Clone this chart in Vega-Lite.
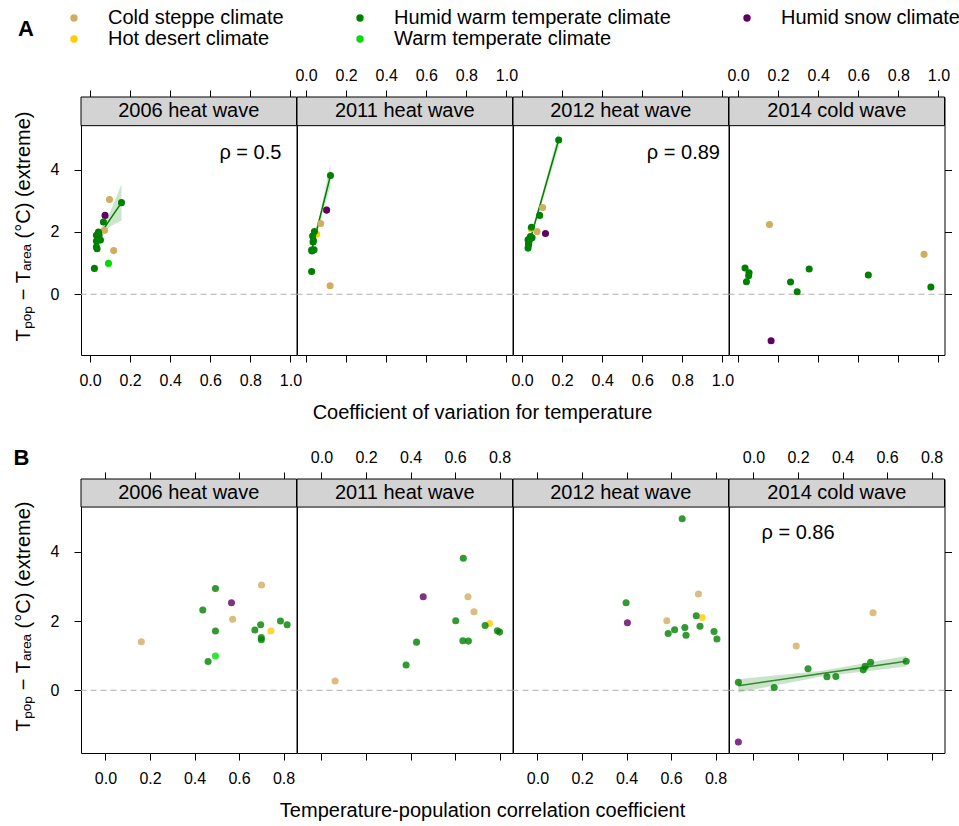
{
"$schema": "https://vega.github.io/schema/vega-lite/v6.json",
"background": "white",
"padding": {"left": 12, "top": 6, "right": 5, "bottom": 2},
"datasets": {
"pts": [
{"ev":"2006 heat wave","cl":"Cold steppe climate","cv":0.097,"cor":0.701,"y":3.04},
{"ev":"2006 heat wave","cl":"Humid warm temperate climate","cv":0.157,"cor":0.494,"y":2.94},
{"ev":"2006 heat wave","cl":"Humid snow climate","cv":0.075,"cor":0.566,"y":2.53},
{"ev":"2006 heat wave","cl":"Humid warm temperate climate","cv":0.067,"cor":0.437,"y":2.32},
{"ev":"2006 heat wave","cl":"Cold steppe climate","cv":0.072,"cor":0.571,"y":2.05},
{"ev":"2006 heat wave","cl":"Hot desert climate","cv":0.040,"cor":0.743,"y":1.71},
{"ev":"2006 heat wave","cl":"Humid warm temperate climate","cv":0.042,"cor":0.786,"y":2.00},
{"ev":"2006 heat wave","cl":"Humid warm temperate climate","cv":0.032,"cor":0.697,"y":1.89},
{"ev":"2006 heat wave","cl":"Humid warm temperate climate","cv":0.045,"cor":0.816,"y":1.89},
{"ev":"2006 heat wave","cl":"Humid warm temperate climate","cv":0.052,"cor":0.671,"y":1.74},
{"ev":"2006 heat wave","cl":"Humid warm temperate climate","cv":0.032,"cor":0.494,"y":1.71},
{"ev":"2006 heat wave","cl":"Humid warm temperate climate","cv":0.032,"cor":0.700,"y":1.52},
{"ev":"2006 heat wave","cl":"Humid warm temperate climate","cv":0.035,"cor":0.700,"y":1.46},
{"ev":"2006 heat wave","cl":"Cold steppe climate","cv":0.118,"cor":0.161,"y":1.40},
{"ev":"2006 heat wave","cl":"Warm temperate climate","cv":0.092,"cor":0.494,"y":0.99},
{"ev":"2006 heat wave","cl":"Humid warm temperate climate","cv":0.022,"cor":0.461,"y":0.83},
{"ev":"2011 heat wave","cl":"Humid warm temperate climate","cv":0.122,"cor":0.637,"y":3.81},
{"ev":"2011 heat wave","cl":"Cold steppe climate","cv":0.101,"cor":0.658,"y":2.70},
{"ev":"2011 heat wave","cl":"Humid snow climate","cv":0.103,"cor":0.457,"y":2.70},
{"ev":"2011 heat wave","cl":"Cold steppe climate","cv":0.073,"cor":0.685,"y":2.27},
{"ev":"2011 heat wave","cl":"Hot desert climate","cv":0.053,"cor":0.755,"y":1.93},
{"ev":"2011 heat wave","cl":"Humid warm temperate climate","cv":0.042,"cor":0.603,"y":2.01},
{"ev":"2011 heat wave","cl":"Humid warm temperate climate","cv":0.033,"cor":0.735,"y":1.87},
{"ev":"2011 heat wave","cl":"Humid warm temperate climate","cv":0.037,"cor":0.790,"y":1.72},
{"ev":"2011 heat wave","cl":"Humid warm temperate climate","cv":0.035,"cor":0.800,"y":1.68},
{"ev":"2011 heat wave","cl":"Humid warm temperate climate","cv":0.040,"cor":0.635,"y":1.43},
{"ev":"2011 heat wave","cl":"Humid warm temperate climate","cv":0.028,"cor":0.660,"y":1.42},
{"ev":"2011 heat wave","cl":"Humid warm temperate climate","cv":0.030,"cor":0.427,"y":1.39},
{"ev":"2011 heat wave","cl":"Humid warm temperate climate","cv":0.028,"cor":0.380,"y":0.73},
{"ev":"2011 heat wave","cl":"Cold steppe climate","cv":0.120,"cor":0.061,"y":0.27},
{"ev":"2012 heat wave","cl":"Humid warm temperate climate","cv":0.183,"cor":0.650,"y":4.95},
{"ev":"2012 heat wave","cl":"Cold steppe climate","cv":0.103,"cor":0.723,"y":2.78},
{"ev":"2012 heat wave","cl":"Humid warm temperate climate","cv":0.088,"cor":0.398,"y":2.53},
{"ev":"2012 heat wave","cl":"Hot desert climate","cv":0.045,"cor":0.740,"y":2.10},
{"ev":"2012 heat wave","cl":"Humid warm temperate climate","cv":0.047,"cor":0.713,"y":2.15},
{"ev":"2012 heat wave","cl":"Cold steppe climate","cv":0.075,"cor":0.581,"y":2.01},
{"ev":"2012 heat wave","cl":"Humid snow climate","cv":0.117,"cor":0.404,"y":1.95},
{"ev":"2012 heat wave","cl":"Humid warm temperate climate","cv":0.042,"cor":0.730,"y":1.85},
{"ev":"2012 heat wave","cl":"Humid warm temperate climate","cv":0.050,"cor":0.662,"y":1.81},
{"ev":"2012 heat wave","cl":"Humid warm temperate climate","cv":0.030,"cor":0.616,"y":1.75},
{"ev":"2012 heat wave","cl":"Humid warm temperate climate","cv":0.035,"cor":0.793,"y":1.70},
{"ev":"2012 heat wave","cl":"Humid warm temperate climate","cv":0.033,"cor":0.587,"y":1.64},
{"ev":"2012 heat wave","cl":"Humid warm temperate climate","cv":0.033,"cor":0.667,"y":1.59},
{"ev":"2012 heat wave","cl":"Humid warm temperate climate","cv":0.030,"cor":0.806,"y":1.48},
{"ev":"2014 cold wave","cl":"Cold steppe climate","cv":0.157,"cor":0.537,"y":2.24},
{"ev":"2014 cold wave","cl":"Cold steppe climate","cv":0.928,"cor":0.192,"y":1.28},
{"ev":"2014 cold wave","cl":"Humid warm temperate climate","cv":0.035,"cor":0.686,"y":0.84},
{"ev":"2014 cold wave","cl":"Humid warm temperate climate","cv":0.355,"cor":0.526,"y":0.81},
{"ev":"2014 cold wave","cl":"Humid warm temperate climate","cv":0.055,"cor":0.502,"y":0.69},
{"ev":"2014 cold wave","cl":"Humid warm temperate climate","cv":0.650,"cor":0.245,"y":0.62},
{"ev":"2014 cold wave","cl":"Humid warm temperate climate","cv":0.053,"cor":0.493,"y":0.59},
{"ev":"2014 cold wave","cl":"Humid warm temperate climate","cv":0.042,"cor":0.370,"y":0.40},
{"ev":"2014 cold wave","cl":"Humid warm temperate climate","cv":0.262,"cor":0.330,"y":0.39},
{"ev":"2014 cold wave","cl":"Humid warm temperate climate","cv":0.962,"cor":-0.068,"y":0.23},
{"ev":"2014 cold wave","cl":"Humid warm temperate climate","cv":0.295,"cor":0.093,"y":0.08},
{"ev":"2014 cold wave","cl":"Humid snow climate","cv":0.165,"cor":-0.068,"y":-1.49}
],
"fits": [
{"p":"A2006","x":0.03,"y":1.73,"lo":1.57,"hi":1.89},
{"p":"A2006","x":0.05,"y":1.92,"lo":1.80,"hi":2.04},
{"p":"A2006","x":0.10,"y":2.40,"lo":2.17,"hi":2.63},
{"p":"A2006","x":0.157,"y":2.94,"lo":2.37,"hi":3.53},
{"p":"A2011","x":0.028,"y":1.41,"lo":1.33,"hi":1.49},
{"p":"A2011","x":0.07,"y":2.48,"lo":2.36,"hi":2.60},
{"p":"A2011","x":0.122,"y":3.81,"lo":3.45,"hi":4.20},
{"p":"A2012","x":0.03,"y":1.52,"lo":1.44,"hi":1.60},
{"p":"A2012","x":0.10,"y":3.09,"lo":2.96,"hi":3.22},
{"p":"A2012","x":0.183,"y":4.96,"lo":4.72,"hi":5.20},
{"p":"B2014","x":-0.068,"y":0.13,"lo":-0.06,"hi":0.32},
{"p":"B2014","x":0.30,"y":0.476,"lo":0.39,"hi":0.56},
{"p":"B2014","x":0.686,"y":0.84,"lo":0.69,"hi":0.99}
],
"rho": [
{"p":"A2006","x":0.80,"y":4.54,"label":"ρ = 0.5"},
{"p":"A2012","x":0.805,"y":4.54,"label":"ρ = 0.89"},
{"p":"B2014","x":0.20,"y":4.54,"label":"ρ = 0.86"}
]
},
"spacing": 23,
"vconcat": [
{
"hconcat": [
{
"width": 215.5, "height": 258,
"layer": [
{"layer": [
{"data":{"values":[{}]},"mark":{"type":"rule","stroke":"#b0b0b0","strokeDash":[6,4],"strokeWidth":1},"encoding":{"y":{"datum":0,"type":"quantitative","scale":{"domain":[-1.95,6.33],"nice":false,"zero":false},"axis":{"orient":"left","values":[0,2,4],"title":"Tₚₒₚ − Tₐᵣₑₐ (°C) (extreme)","titleFontSize":20,"titleFontWeight":"normal","titlePadding":17,"labelPadding":15}}}},
{"data":{"name":"fits"},"transform":[{"filter":"datum.p==='A2006'"}],"mark":{"type":"area","color":"#008000","opacity":0.2},"encoding":{"x":{"field":"x","type":"quantitative","scale":{"domain":[-0.045,1.03],"nice":false,"zero":false},"axis":{"orient":"bottom","values":[0,0.2,0.4,0.6,0.8,1],"format":".1f","title":null,"labelPadding":10}},"y":{"field":"lo","type":"quantitative","scale":{"domain":[-1.95,6.33],"nice":false,"zero":false},"axis":{"orient":"left","values":[0,2,4],"title":"Tₚₒₚ − Tₐᵣₑₐ (°C) (extreme)","titleFontSize":20,"titleFontWeight":"normal","titlePadding":17,"labelPadding":15}},"y2":{"field":"hi"}}},
{"data":{"name":"fits"},"transform":[{"filter":"datum.p==='A2006'"}],"mark":{"type":"line","color":"#008000","strokeWidth":1.5},"encoding":{"x":{"field":"x","type":"quantitative","scale":{"domain":[-0.045,1.03],"nice":false,"zero":false},"axis":{"orient":"bottom","values":[0,0.2,0.4,0.6,0.8,1],"format":".1f","title":null,"labelPadding":10}},"y":{"field":"y","type":"quantitative","scale":{"domain":[-1.95,6.33],"nice":false,"zero":false},"axis":{"orient":"left","values":[0,2,4],"title":"Tₚₒₚ − Tₐᵣₑₐ (°C) (extreme)","titleFontSize":20,"titleFontWeight":"normal","titlePadding":17,"labelPadding":15}}}},
{"data":{"name":"pts"},"transform":[{"filter":"datum.ev==='2006 heat wave'"}],"mark":{"type":"circle","size":50,"opacity":1},"encoding":{
"x":{"field":"cv","type":"quantitative","scale":{"domain":[-0.045,1.03],"nice":false,"zero":false},"axis":{"orient":"bottom","values":[0,0.2,0.4,0.6,0.8,1],"format":".1f","title":null,"labelPadding":10}},
"y":{"field":"y","type":"quantitative","scale":{"domain":[-1.95,6.33],"nice":false,"zero":false},"axis":{"orient":"left","values":[0,2,4],"title":"Tₚₒₚ − Tₐᵣₑₐ (°C) (extreme)","titleFontSize":20,"titleFontWeight":"normal","titlePadding":17,"labelPadding":15}},
"color":{"field":"cl","type":"nominal","scale":{"domain":["Cold steppe climate","Humid warm temperate climate","Humid snow climate","Hot desert climate","Warm temperate climate"],"range":["#D1AD62","#008000","#600060","#FFCC00","#00DD00"]},"legend":{"title":"A","titleOrient":"left","titleAnchor":"middle","titleBaseline":"middle","titleFontSize":22,"titleFontWeight":"bold","titlePadding":30,"orient":"none","direction":"horizontal","legendX":-65,"legendY":-91,"columns":3,"columnPadding":66,"rowPadding":1,"labelFontSize":20,"labelLimit":0,"labelOffset":24,"symbolType":"circle","symbolSize":55,"symbolOpacity":1,"symbolStrokeWidth":0,"padding":2}}}},
{"data":{"name":"rho"},"transform":[{"filter":"datum.p==='A2006'"}],"mark":{"type":"text","fontSize":20,"align":"center","baseline":"middle"},"encoding":{"x":{"field":"x","type":"quantitative","scale":{"domain":[-0.045,1.03],"nice":false,"zero":false},"axis":{"orient":"bottom","values":[0,0.2,0.4,0.6,0.8,1],"format":".1f","title":null,"labelPadding":10}},"y":{"field":"y","type":"quantitative","scale":{"domain":[-1.95,6.33],"nice":false,"zero":false},"axis":{"orient":"left","values":[0,2,4],"title":"Tₚₒₚ − Tₐᵣₑₐ (°C) (extreme)","titleFontSize":20,"titleFontWeight":"normal","titlePadding":17,"labelPadding":15}},"text":{"field":"label"}}}
]},
{"data":{"values":[{"label":"2006 heat wave"}]},"layer":[
{"mark":{"type":"rect","fill":"#d3d3d3","stroke":"black","strokeWidth":1},"encoding":{"x":{"datum":-0.045,"type":"quantitative","scale":{"domain":[-0.045,1.03],"nice":false,"zero":false},"axis":{"orient":"top","values":[0,0.2,0.4,0.6,0.8,1],"labels":false,"title":null}},"x2":{"datum":1.03},"y":{"datum":5.41,"type":"quantitative","scale":{"domain":[-1.95,6.33],"nice":false,"zero":false},"axis":{"orient":"left","values":[0,2,4],"title":"Tₚₒₚ − Tₐᵣₑₐ (°C) (extreme)","titleFontSize":20,"titleFontWeight":"normal","titlePadding":17,"labelPadding":15}},"y2":{"datum":6.33}}},
{"mark":{"type":"text","fontSize":20,"baseline":"middle"},"encoding":{"x":{"datum":0.4925,"type":"quantitative","scale":{"domain":[-0.045,1.03],"nice":false,"zero":false},"axis":{"orient":"top","values":[0,0.2,0.4,0.6,0.8,1],"labels":false,"title":null}},"y":{"datum":5.87,"type":"quantitative","scale":{"domain":[-1.95,6.33],"nice":false,"zero":false},"axis":{"orient":"left","values":[0,2,4],"title":"Tₚₒₚ − Tₐᵣₑₐ (°C) (extreme)","titleFontSize":20,"titleFontWeight":"normal","titlePadding":17,"labelPadding":15}},"text":{"field":"label"}}}
]}
],
"resolve":{"axis":{"x":"independent"}}
},
{
"width": 215.5, "height": 258,
"layer": [
{"layer": [
{"data":{"values":[{}]},"mark":{"type":"rule","stroke":"#b0b0b0","strokeDash":[6,4],"strokeWidth":1},"encoding":{"y":{"datum":0,"type":"quantitative","scale":{"domain":[-1.95,6.33],"nice":false,"zero":false},"axis":null}}},
{"data":{"name":"fits"},"transform":[{"filter":"datum.p==='A2011'"}],"mark":{"type":"area","color":"#008000","opacity":0.2},"encoding":{"x":{"field":"x","type":"quantitative","scale":{"domain":[-0.045,1.03],"nice":false,"zero":false},"axis":{"orient":"bottom","values":[0,0.2,0.4,0.6,0.8,1],"labels":false,"title":null}},"y":{"field":"lo","type":"quantitative","scale":{"domain":[-1.95,6.33],"nice":false,"zero":false},"axis":null},"y2":{"field":"hi"}}},
{"data":{"name":"fits"},"transform":[{"filter":"datum.p==='A2011'"}],"mark":{"type":"line","color":"#008000","strokeWidth":1.5},"encoding":{"x":{"field":"x","type":"quantitative","scale":{"domain":[-0.045,1.03],"nice":false,"zero":false},"axis":{"orient":"bottom","values":[0,0.2,0.4,0.6,0.8,1],"labels":false,"title":null}},"y":{"field":"y","type":"quantitative","scale":{"domain":[-1.95,6.33],"nice":false,"zero":false},"axis":null}}},
{"data":{"name":"pts"},"transform":[{"filter":"datum.ev==='2011 heat wave'"}],"mark":{"type":"circle","size":50,"opacity":1},"encoding":{
"x":{"field":"cv","type":"quantitative","scale":{"domain":[-0.045,1.03],"nice":false,"zero":false},"axis":{"orient":"bottom","values":[0,0.2,0.4,0.6,0.8,1],"labels":false,"title":null}},
"y":{"field":"y","type":"quantitative","scale":{"domain":[-1.95,6.33],"nice":false,"zero":false},"axis":null},
"color":{"field":"cl","type":"nominal","scale":{"domain":["Cold steppe climate","Humid warm temperate climate","Humid snow climate","Hot desert climate","Warm temperate climate"],"range":["#D1AD62","#008000","#600060","#FFCC00","#00DD00"]}}}}
]},
{"data":{"values":[{"label":"2011 heat wave"}]},"layer":[
{"mark":{"type":"rect","fill":"#d3d3d3","stroke":"black","strokeWidth":1},"encoding":{"x":{"datum":-0.045,"type":"quantitative","scale":{"domain":[-0.045,1.03],"nice":false,"zero":false},"axis":{"orient":"top","values":[0,0.2,0.4,0.6,0.8,1],"format":".1f","title":null,"labelPadding":7}},"x2":{"datum":1.03},"y":{"datum":5.41,"type":"quantitative","scale":{"domain":[-1.95,6.33],"nice":false,"zero":false},"axis":null},"y2":{"datum":6.33}}},
{"mark":{"type":"text","fontSize":20,"baseline":"middle"},"encoding":{"x":{"datum":0.4925,"type":"quantitative","scale":{"domain":[-0.045,1.03],"nice":false,"zero":false},"axis":{"orient":"top","values":[0,0.2,0.4,0.6,0.8,1],"format":".1f","title":null,"labelPadding":7}},"y":{"datum":5.87,"type":"quantitative","scale":{"domain":[-1.95,6.33],"nice":false,"zero":false},"axis":null},"text":{"field":"label"}}}
]}
],
"resolve":{"axis":{"x":"independent"}}
},
{
"width": 215.5, "height": 258,
"layer": [
{"layer": [
{"data":{"values":[{}]},"mark":{"type":"rule","stroke":"#b0b0b0","strokeDash":[6,4],"strokeWidth":1},"encoding":{"y":{"datum":0,"type":"quantitative","scale":{"domain":[-1.95,6.33],"nice":false,"zero":false},"axis":null}}},
{"data":{"name":"fits"},"transform":[{"filter":"datum.p==='A2012'"}],"mark":{"type":"area","color":"#008000","opacity":0.2},"encoding":{"x":{"field":"x","type":"quantitative","scale":{"domain":[-0.045,1.03],"nice":false,"zero":false},"axis":{"orient":"bottom","values":[0,0.2,0.4,0.6,0.8,1],"format":".1f","title":null,"labelPadding":10}},"y":{"field":"lo","type":"quantitative","scale":{"domain":[-1.95,6.33],"nice":false,"zero":false},"axis":null},"y2":{"field":"hi"}}},
{"data":{"name":"fits"},"transform":[{"filter":"datum.p==='A2012'"}],"mark":{"type":"line","color":"#008000","strokeWidth":1.5},"encoding":{"x":{"field":"x","type":"quantitative","scale":{"domain":[-0.045,1.03],"nice":false,"zero":false},"axis":{"orient":"bottom","values":[0,0.2,0.4,0.6,0.8,1],"format":".1f","title":null,"labelPadding":10}},"y":{"field":"y","type":"quantitative","scale":{"domain":[-1.95,6.33],"nice":false,"zero":false},"axis":null}}},
{"data":{"name":"pts"},"transform":[{"filter":"datum.ev==='2012 heat wave'"}],"mark":{"type":"circle","size":50,"opacity":1},"encoding":{
"x":{"field":"cv","type":"quantitative","scale":{"domain":[-0.045,1.03],"nice":false,"zero":false},"axis":{"orient":"bottom","values":[0,0.2,0.4,0.6,0.8,1],"format":".1f","title":null,"labelPadding":10}},
"y":{"field":"y","type":"quantitative","scale":{"domain":[-1.95,6.33],"nice":false,"zero":false},"axis":null},
"color":{"field":"cl","type":"nominal","scale":{"domain":["Cold steppe climate","Humid warm temperate climate","Humid snow climate","Hot desert climate","Warm temperate climate"],"range":["#D1AD62","#008000","#600060","#FFCC00","#00DD00"]}}}},
{"data":{"name":"rho"},"transform":[{"filter":"datum.p==='A2012'"}],"mark":{"type":"text","fontSize":20,"align":"center","baseline":"middle"},"encoding":{"x":{"field":"x","type":"quantitative","scale":{"domain":[-0.045,1.03],"nice":false,"zero":false},"axis":{"orient":"bottom","values":[0,0.2,0.4,0.6,0.8,1],"format":".1f","title":null,"labelPadding":10}},"y":{"field":"y","type":"quantitative","scale":{"domain":[-1.95,6.33],"nice":false,"zero":false},"axis":null},"text":{"field":"label"}}}
]},
{"data":{"values":[{"label":"2012 heat wave"}]},"layer":[
{"mark":{"type":"rect","fill":"#d3d3d3","stroke":"black","strokeWidth":1},"encoding":{"x":{"datum":-0.045,"type":"quantitative","scale":{"domain":[-0.045,1.03],"nice":false,"zero":false},"axis":{"orient":"top","values":[0,0.2,0.4,0.6,0.8,1],"labels":false,"title":null}},"x2":{"datum":1.03},"y":{"datum":5.41,"type":"quantitative","scale":{"domain":[-1.95,6.33],"nice":false,"zero":false},"axis":null},"y2":{"datum":6.33}}},
{"mark":{"type":"text","fontSize":20,"baseline":"middle"},"encoding":{"x":{"datum":0.4925,"type":"quantitative","scale":{"domain":[-0.045,1.03],"nice":false,"zero":false},"axis":{"orient":"top","values":[0,0.2,0.4,0.6,0.8,1],"labels":false,"title":null}},"y":{"datum":5.87,"type":"quantitative","scale":{"domain":[-1.95,6.33],"nice":false,"zero":false},"axis":null},"text":{"field":"label"}}}
]}
],
"resolve":{"axis":{"x":"independent"}}
},
{
"width": 215.5, "height": 258,
"layer": [
{"layer": [
{"data":{"values":[{}]},"mark":{"type":"rule","stroke":"#b0b0b0","strokeDash":[6,4],"strokeWidth":1},"encoding":{"y":{"datum":0,"type":"quantitative","scale":{"domain":[-1.95,6.33],"nice":false,"zero":false},"axis":{"orient":"right","values":[0,2,4],"labels":false,"title":null}}}},
{"data":{"name":"pts"},"transform":[{"filter":"datum.ev==='2014 cold wave'"}],"mark":{"type":"circle","size":50,"opacity":1},"encoding":{
"x":{"field":"cv","type":"quantitative","scale":{"domain":[-0.045,1.03],"nice":false,"zero":false},"axis":{"orient":"bottom","values":[0,0.2,0.4,0.6,0.8,1],"labels":false,"title":null}},
"y":{"field":"y","type":"quantitative","scale":{"domain":[-1.95,6.33],"nice":false,"zero":false},"axis":{"orient":"right","values":[0,2,4],"labels":false,"title":null}},
"color":{"field":"cl","type":"nominal","scale":{"domain":["Cold steppe climate","Humid warm temperate climate","Humid snow climate","Hot desert climate","Warm temperate climate"],"range":["#D1AD62","#008000","#600060","#FFCC00","#00DD00"]}}}}
]},
{"data":{"values":[{"label":"2014 cold wave"}]},"layer":[
{"mark":{"type":"rect","fill":"#d3d3d3","stroke":"black","strokeWidth":1},"encoding":{"x":{"datum":-0.045,"type":"quantitative","scale":{"domain":[-0.045,1.03],"nice":false,"zero":false},"axis":{"orient":"top","values":[0,0.2,0.4,0.6,0.8,1],"format":".1f","title":null,"labelPadding":7}},"x2":{"datum":1.03},"y":{"datum":5.41,"type":"quantitative","scale":{"domain":[-1.95,6.33],"nice":false,"zero":false},"axis":{"orient":"right","values":[0,2,4],"labels":false,"title":null}},"y2":{"datum":6.33}}},
{"mark":{"type":"text","fontSize":20,"baseline":"middle"},"encoding":{"x":{"datum":0.4925,"type":"quantitative","scale":{"domain":[-0.045,1.03],"nice":false,"zero":false},"axis":{"orient":"top","values":[0,0.2,0.4,0.6,0.8,1],"format":".1f","title":null,"labelPadding":7}},"y":{"datum":5.87,"type":"quantitative","scale":{"domain":[-1.95,6.33],"nice":false,"zero":false},"axis":{"orient":"right","values":[0,2,4],"labels":false,"title":null}},"text":{"field":"label"}}}
]}
],
"resolve":{"axis":{"x":"independent"}}
}
],
"spacing": 0,
"bounds": "flush",
"title": {"text":"Coefficient of variation for temperature","orient":"bottom","anchor":"middle","fontSize":20,"fontWeight":"normal","offset":14}
},
{
"vconcat": [
{
"hconcat": [
{
"width": 215.5, "height": 274,
"layer": [
{"layer": [
{"data":{"values":[{}]},"mark":{"type":"rule","stroke":"#b0b0b0","strokeDash":[6,4],"strokeWidth":1},"encoding":{"y":{"datum":0,"type":"quantitative","scale":{"domain":[-1.81,6.10],"nice":false,"zero":false},"axis":{"orient":"left","values":[0,2,4],"title":"Tₚₒₚ − Tₐᵣₑₐ (°C) (extreme)","titleFontSize":20,"titleFontWeight":"normal","titlePadding":17,"labelPadding":15}}}},
{"data":{"name":"pts"},"transform":[{"filter":"datum.ev==='2006 heat wave'"}],"mark":{"type":"circle","size":50,"opacity":0.8},"encoding":{
"x":{"field":"cor","type":"quantitative","scale":{"domain":[-0.11,0.858],"nice":false,"zero":false},"axis":{"orient":"bottom","values":[0,0.2,0.4,0.6,0.8],"format":".1f","title":null,"labelPadding":10}},
"y":{"field":"y","type":"quantitative","scale":{"domain":[-1.81,6.10],"nice":false,"zero":false},"axis":{"orient":"left","values":[0,2,4],"title":"Tₚₒₚ − Tₐᵣₑₐ (°C) (extreme)","titleFontSize":20,"titleFontWeight":"normal","titlePadding":17,"labelPadding":15}},
"color":{"field":"cl","type":"nominal","scale":{"domain":["Cold steppe climate","Humid warm temperate climate","Humid snow climate","Hot desert climate","Warm temperate climate"],"range":["#D1AD62","#008000","#600060","#FFCC00","#00DD00"]}}}}
]},
{"data":{"values":[{"label":"2006 heat wave"}]},"layer":[
{"mark":{"type":"rect","fill":"#d3d3d3","stroke":"black","strokeWidth":1},"encoding":{"x":{"datum":-0.11,"type":"quantitative","scale":{"domain":[-0.11,0.858],"nice":false,"zero":false},"axis":{"orient":"top","values":[0,0.2,0.4,0.6,0.8],"labels":false,"title":null}},"x2":{"datum":0.858},"y":{"datum":5.29,"type":"quantitative","scale":{"domain":[-1.81,6.10],"nice":false,"zero":false},"axis":{"orient":"left","values":[0,2,4],"title":"Tₚₒₚ − Tₐᵣₑₐ (°C) (extreme)","titleFontSize":20,"titleFontWeight":"normal","titlePadding":17,"labelPadding":15}},"y2":{"datum":6.10}}},
{"mark":{"type":"text","fontSize":20,"baseline":"middle"},"encoding":{"x":{"datum":0.374,"type":"quantitative","scale":{"domain":[-0.11,0.858],"nice":false,"zero":false},"axis":{"orient":"top","values":[0,0.2,0.4,0.6,0.8],"labels":false,"title":null}},"y":{"datum":5.695,"type":"quantitative","scale":{"domain":[-1.81,6.10],"nice":false,"zero":false},"axis":{"orient":"left","values":[0,2,4],"title":"Tₚₒₚ − Tₐᵣₑₐ (°C) (extreme)","titleFontSize":20,"titleFontWeight":"normal","titlePadding":17,"labelPadding":15}},"text":{"field":"label"}}}
]}
],
"resolve":{"axis":{"x":"independent"}}
},
{
"width": 215.5, "height": 274,
"layer": [
{"layer": [
{"data":{"values":[{}]},"mark":{"type":"rule","stroke":"#b0b0b0","strokeDash":[6,4],"strokeWidth":1},"encoding":{"y":{"datum":0,"type":"quantitative","scale":{"domain":[-1.81,6.10],"nice":false,"zero":false},"axis":null}}},
{"data":{"name":"pts"},"transform":[{"filter":"datum.ev==='2011 heat wave'"}],"mark":{"type":"circle","size":50,"opacity":0.8},"encoding":{
"x":{"field":"cor","type":"quantitative","scale":{"domain":[-0.11,0.858],"nice":false,"zero":false},"axis":{"orient":"bottom","values":[0,0.2,0.4,0.6,0.8],"labels":false,"title":null}},
"y":{"field":"y","type":"quantitative","scale":{"domain":[-1.81,6.10],"nice":false,"zero":false},"axis":null},
"color":{"field":"cl","type":"nominal","scale":{"domain":["Cold steppe climate","Humid warm temperate climate","Humid snow climate","Hot desert climate","Warm temperate climate"],"range":["#D1AD62","#008000","#600060","#FFCC00","#00DD00"]}}}}
]},
{"data":{"values":[{"label":"2011 heat wave"}]},"layer":[
{"mark":{"type":"rect","fill":"#d3d3d3","stroke":"black","strokeWidth":1},"encoding":{"x":{"datum":-0.11,"type":"quantitative","scale":{"domain":[-0.11,0.858],"nice":false,"zero":false},"axis":{"orient":"top","values":[0,0.2,0.4,0.6,0.8],"format":".1f","title":null,"labelPadding":7}},"x2":{"datum":0.858},"y":{"datum":5.29,"type":"quantitative","scale":{"domain":[-1.81,6.10],"nice":false,"zero":false},"axis":null},"y2":{"datum":6.10}}},
{"mark":{"type":"text","fontSize":20,"baseline":"middle"},"encoding":{"x":{"datum":0.374,"type":"quantitative","scale":{"domain":[-0.11,0.858],"nice":false,"zero":false},"axis":{"orient":"top","values":[0,0.2,0.4,0.6,0.8],"format":".1f","title":null,"labelPadding":7}},"y":{"datum":5.695,"type":"quantitative","scale":{"domain":[-1.81,6.10],"nice":false,"zero":false},"axis":null},"text":{"field":"label"}}}
]}
],
"resolve":{"axis":{"x":"independent"}}
},
{
"width": 215.5, "height": 274,
"layer": [
{"layer": [
{"data":{"values":[{}]},"mark":{"type":"rule","stroke":"#b0b0b0","strokeDash":[6,4],"strokeWidth":1},"encoding":{"y":{"datum":0,"type":"quantitative","scale":{"domain":[-1.81,6.10],"nice":false,"zero":false},"axis":null}}},
{"data":{"name":"pts"},"transform":[{"filter":"datum.ev==='2012 heat wave'"}],"mark":{"type":"circle","size":50,"opacity":0.8},"encoding":{
"x":{"field":"cor","type":"quantitative","scale":{"domain":[-0.11,0.858],"nice":false,"zero":false},"axis":{"orient":"bottom","values":[0,0.2,0.4,0.6,0.8],"format":".1f","title":null,"labelPadding":10}},
"y":{"field":"y","type":"quantitative","scale":{"domain":[-1.81,6.10],"nice":false,"zero":false},"axis":null},
"color":{"field":"cl","type":"nominal","scale":{"domain":["Cold steppe climate","Humid warm temperate climate","Humid snow climate","Hot desert climate","Warm temperate climate"],"range":["#D1AD62","#008000","#600060","#FFCC00","#00DD00"]}}}}
]},
{"data":{"values":[{"label":"2012 heat wave"}]},"layer":[
{"mark":{"type":"rect","fill":"#d3d3d3","stroke":"black","strokeWidth":1},"encoding":{"x":{"datum":-0.11,"type":"quantitative","scale":{"domain":[-0.11,0.858],"nice":false,"zero":false},"axis":{"orient":"top","values":[0,0.2,0.4,0.6,0.8],"labels":false,"title":null}},"x2":{"datum":0.858},"y":{"datum":5.29,"type":"quantitative","scale":{"domain":[-1.81,6.10],"nice":false,"zero":false},"axis":null},"y2":{"datum":6.10}}},
{"mark":{"type":"text","fontSize":20,"baseline":"middle"},"encoding":{"x":{"datum":0.374,"type":"quantitative","scale":{"domain":[-0.11,0.858],"nice":false,"zero":false},"axis":{"orient":"top","values":[0,0.2,0.4,0.6,0.8],"labels":false,"title":null}},"y":{"datum":5.695,"type":"quantitative","scale":{"domain":[-1.81,6.10],"nice":false,"zero":false},"axis":null},"text":{"field":"label"}}}
]}
],
"resolve":{"axis":{"x":"independent"}}
},
{
"width": 215.5, "height": 274,
"layer": [
{"layer": [
{"data":{"values":[{}]},"mark":{"type":"rule","stroke":"#b0b0b0","strokeDash":[6,4],"strokeWidth":1},"encoding":{"y":{"datum":0,"type":"quantitative","scale":{"domain":[-1.81,6.10],"nice":false,"zero":false},"axis":{"orient":"right","values":[0,2,4],"labels":false,"title":null}}}},
{"data":{"name":"fits"},"transform":[{"filter":"datum.p==='B2014'"}],"mark":{"type":"area","color":"#2e8b2e","opacity":0.25},"encoding":{"x":{"field":"x","type":"quantitative","scale":{"domain":[-0.11,0.858],"nice":false,"zero":false},"axis":{"orient":"bottom","values":[0,0.2,0.4,0.6,0.8],"labels":false,"title":null}},"y":{"field":"lo","type":"quantitative","scale":{"domain":[-1.81,6.10],"nice":false,"zero":false},"axis":{"orient":"right","values":[0,2,4],"labels":false,"title":null}},"y2":{"field":"hi"}}},
{"data":{"name":"fits"},"transform":[{"filter":"datum.p==='B2014'"}],"mark":{"type":"line","color":"#2e8b2e","strokeWidth":1.5},"encoding":{"x":{"field":"x","type":"quantitative","scale":{"domain":[-0.11,0.858],"nice":false,"zero":false},"axis":{"orient":"bottom","values":[0,0.2,0.4,0.6,0.8],"labels":false,"title":null}},"y":{"field":"y","type":"quantitative","scale":{"domain":[-1.81,6.10],"nice":false,"zero":false},"axis":{"orient":"right","values":[0,2,4],"labels":false,"title":null}}}},
{"data":{"name":"pts"},"transform":[{"filter":"datum.ev==='2014 cold wave'"}],"mark":{"type":"circle","size":50,"opacity":0.8},"encoding":{
"x":{"field":"cor","type":"quantitative","scale":{"domain":[-0.11,0.858],"nice":false,"zero":false},"axis":{"orient":"bottom","values":[0,0.2,0.4,0.6,0.8],"labels":false,"title":null}},
"y":{"field":"y","type":"quantitative","scale":{"domain":[-1.81,6.10],"nice":false,"zero":false},"axis":{"orient":"right","values":[0,2,4],"labels":false,"title":null}},
"color":{"field":"cl","type":"nominal","scale":{"domain":["Cold steppe climate","Humid warm temperate climate","Humid snow climate","Hot desert climate","Warm temperate climate"],"range":["#D1AD62","#008000","#600060","#FFCC00","#00DD00"]}}}},
{"data":{"name":"rho"},"transform":[{"filter":"datum.p==='B2014'"}],"mark":{"type":"text","fontSize":20,"align":"center","baseline":"middle"},"encoding":{"x":{"field":"x","type":"quantitative","scale":{"domain":[-0.11,0.858],"nice":false,"zero":false},"axis":{"orient":"bottom","values":[0,0.2,0.4,0.6,0.8],"labels":false,"title":null}},"y":{"field":"y","type":"quantitative","scale":{"domain":[-1.81,6.10],"nice":false,"zero":false},"axis":{"orient":"right","values":[0,2,4],"labels":false,"title":null}},"text":{"field":"label"}}}
]},
{"data":{"values":[{"label":"2014 cold wave"}]},"layer":[
{"mark":{"type":"rect","fill":"#d3d3d3","stroke":"black","strokeWidth":1},"encoding":{"x":{"datum":-0.11,"type":"quantitative","scale":{"domain":[-0.11,0.858],"nice":false,"zero":false},"axis":{"orient":"top","values":[0,0.2,0.4,0.6,0.8],"format":".1f","title":null,"labelPadding":7}},"x2":{"datum":0.858},"y":{"datum":5.29,"type":"quantitative","scale":{"domain":[-1.81,6.10],"nice":false,"zero":false},"axis":{"orient":"right","values":[0,2,4],"labels":false,"title":null}},"y2":{"datum":6.10}}},
{"mark":{"type":"text","fontSize":20,"baseline":"middle"},"encoding":{"x":{"datum":0.374,"type":"quantitative","scale":{"domain":[-0.11,0.858],"nice":false,"zero":false},"axis":{"orient":"top","values":[0,0.2,0.4,0.6,0.8],"format":".1f","title":null,"labelPadding":7}},"y":{"datum":5.695,"type":"quantitative","scale":{"domain":[-1.81,6.10],"nice":false,"zero":false},"axis":{"orient":"right","values":[0,2,4],"labels":false,"title":null}},"text":{"field":"label"}}}
]}
],
"resolve":{"axis":{"x":"independent"}}
}
],
"spacing": 0,
"bounds": "flush",
"title": {"text":"Temperature-population correlation coefficient","orient":"bottom","anchor":"middle","fontSize":20,"fontWeight":"normal","offset":14}
}
],
"title": {"text":"B","anchor":"start","fontSize":22,"fontWeight":"bold","offset":4,"dx":1,"dy":25}
}
],
"config": {
"font": "Liberation Sans",
"view": {"stroke": "black", "strokeWidth": 1},
"text": {"font": "Liberation Sans", "color": "black"},
"title": {"font": "Liberation Sans", "color": "black"},
"legend": {"labelFont": "Liberation Sans", "titleFont": "Liberation Sans", "labelColor": "black", "titleColor": "black"},
"axis": {"domain": false, "grid": false, "tickColor": "black", "tickSize": 7, "tickWidth": 1, "labelFontSize": 16, "labelColor": "black", "labelFont": "Liberation Sans", "labelFlush": false, "labelOverlap": false, "titleColor": "black", "titleFont": "Liberation Sans"}
}
}
